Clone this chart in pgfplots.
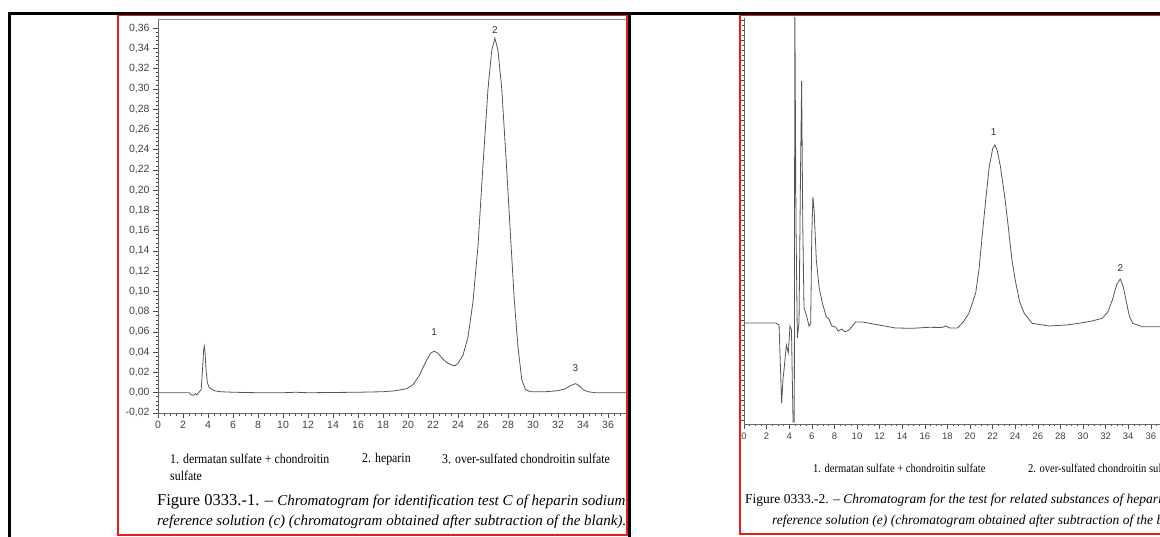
\documentclass[border=0pt]{standalone}
\usepackage{pgfplots}
\pgfplotsset{compat=1.18}
\usepackage{fontspec}
\setmainfont{Liberation Sans}
\newfontfamily\capfont{Liberation Serif}
\newfontfamily\legfont{Liberation Serif}[FakeStretch=0.88]
\definecolor{redframe}{RGB}{232,28,28}
\definecolor{trace}{RGB}{85,85,85}

\pgfplotsset{chrom/.style={
  scale only axis, anchor=south west,
  axis x line*=bottom, axis y line*=left,
  tick align=outside, major tick length=5pt, minor tick length=2.5pt,
  xtick distance=2, minor x tick num=3,
  tick style={black!70, line width=0.6pt},
  axis line style={black!60, line width=0.8pt},
  ticklabel style={font=\fontsize{10.5}{10.5}\selectfont, text=black!75},
  /pgf/number format/assume math mode=true,
  clip mode=individual,
}}

\begin{document}
\begin{tikzpicture}
\useasboundingbox (0,0) rectangle (1160pt,536pt);
\begin{scope}
\clip (0,0) rectangle (1160pt,536pt);

% left chromatogram
\begin{axis}[chrom, at={(158pt,123pt)}, width=470pt, height=393pt,
  xmin=0, xmax=37.6, ymin=-0.02, ymax=0.368,
  ytick distance=0.02, minor y tick num=4,
  yticklabel style={/pgf/number format/.cd, fixed, fixed zerofill, precision=2, use comma}]
\draw[black!45, line width=1pt] (rel axis cs:0,1) -- (rel axis cs:1,1);
\addplot[trace, line width=0.8pt] coordinates {
(0,0) (2.5,0) (2.65,-0.002) (2.85,-0.0025) (3.0,-0.001) (3.1,-0.002) (3.25,0)
(3.45,0.003) (3.55,0.02) (3.65,0.042) (3.7,0.046) (3.75,0.042) (3.85,0.022)
(3.95,0.010) (4.1,0.005) (4.5,0.002) (5.0,0.001) (6,0.0005) (8,0) (10,0)
(11,0.0005) (12,0) (16,0.0005) (18,0.001) (19,0.002)
(19.9,0.004) (20.4,0.008) (20.9,0.017) (21.4,0.030) (21.8,0.039) (22.1,0.041)
(22.4,0.039) (22.8,0.033) (23.2,0.029) (23.6,0.027) (23.8,0.027)
(24.0,0.029) (24.4,0.037) (24.8,0.055) (25.2,0.090) (25.6,0.145) (26.0,0.225)
(26.4,0.300) (26.7,0.338) (26.95,0.350) (27.2,0.338) (27.5,0.300) (27.9,0.220)
(28.2,0.155) (28.5,0.092) (28.8,0.045) (29.1,0.013) (29.4,0.003) (29.8,0.001)
(31,0.001) (32,0.002) (32.6,0.004) (33.0,0.007) (33.4,0.009) (33.7,0.007)
(34.0,0.003) (34.4,0.001) (35,0) (37.6,0)
};
\node[font=\fontsize{10}{10}\selectfont, text=black!80] at (axis cs:22.1,0.060) {1};
\node[font=\fontsize{10}{10}\selectfont, text=black!80] at (axis cs:26.95,0.358) {2};
\node[font=\fontsize{10}{10}\selectfont, text=black!80] at (axis cs:33.4,0.024) {3};
\end{axis}

% right chromatogram
\begin{axis}[chrom, at={(744pt,112pt)}, width=426pt, height=406pt,
  xmin=0, xmax=37.7, ymin=0, ymax=406,
  ytick={4,24,...,404}, minor y tick num=3, yticklabels={},
  ticklabel style={font=\fontsize{9.5}{9.5}\selectfont}]
\addplot[trace, line width=0.8pt] coordinates {
(0,101) (2.8,101) (3.1,99) (3.33,21) (3.45,45) (3.54,54) (3.75,79) (3.92,71)
(4.07,98) (4.2,94) (4.34,2) (4.45,2) (4.5,420) (4.6,200) (4.72,86) (4.87,102)
(5.0,250) (5.1,343) (5.2,200) (5.31,116) (5.52,109) (5.75,98) (5.9,100)
(6.0,190) (6.1,227) (6.2,215) (6.4,164) (6.64,137) (6.93,121) (7.29,107)
(7.52,105) (7.76,98) (8.1,97) (8.35,93) (8.65,95) (8.94,92) (9.3,94)
(9.88,102) (10.47,102) (11.95,99) (13.4,96) (14.9,95.7) (16.4,96.7)
(17.5,96.5) (17.85,98) (18.2,96) (18.9,96) (19.4,102) (19.9,110.7)
(20.5,130.7) (20.8,155) (21.1,190.7) (21.4,225) (21.7,257) (22.0,275)
(22.2,279) (22.4,274) (22.7,257) (23.1,225) (23.45,191) (23.7,165) (24.0,144)
(24.4,122) (24.8,110.7) (25.5,100.7) (27.0,98) (28.5,99) (29.65,100.7)
(30.8,103) (31.7,105.7) (32.2,112) (32.6,124) (33.0,140) (33.3,145)
(33.55,138) (33.8,124) (34.1,108) (34.4,100.7) (35.25,97.3) (37.7,97.3)
};
\node[font=\fontsize{10}{10}\selectfont, text=black!80] at (axis cs:22.1,292) {1};
\node[font=\fontsize{10}{10}\selectfont, text=black!80] at (axis cs:33.3,156) {2};
\end{axis}

% left captions
\begin{scope}
\clip (118pt,0) rectangle (627pt,536pt);
\node[anchor=west, inner sep=0, font=\legfont\fontsize{13.5}{14}\selectfont] at (170pt,77pt) {1. dermatan sulfate + chondroitin};
\node[anchor=west, inner sep=0, font=\legfont\fontsize{13.5}{14}\selectfont] at (170pt,60pt) {sulfate};
\node[anchor=west, inner sep=0, font=\legfont\fontsize{13.5}{14}\selectfont] at (362pt,77pt) {2. heparin};
\node[anchor=west, inner sep=0, font=\legfont\fontsize{13.5}{14}\selectfont] at (442pt,77pt) {3. over-sulfated chondroitin sulfate};
\node[anchor=west, inner sep=0, font=\capfont\fontsize{16.5}{17}\selectfont] at (157pt,34pt) {Figure 0333.-1. \textendash{} \fontsize{15}{16}\selectfont\textit{Chromatogram for identification test C of heparin sodium:}};
\node[anchor=west, inner sep=0, font=\capfont\fontsize{15}{16}\selectfont] at (157pt,14pt) {\textit{reference solution (c) (chromatogram obtained after subtraction of the blank).}};
\end{scope}

% right captions
\node[anchor=west, inner sep=0, font=\legfont\fontsize{12}{12}\selectfont] at (813pt,68pt) {1. dermatan sulfate + chondroitin sulfate};
\node[anchor=west, inner sep=0, font=\legfont\fontsize{12}{12}\selectfont] at (1028pt,68pt) {2. over-sulfated chondroitin sulfate};
\node[anchor=west, inner sep=0, font=\capfont\fontsize{13.5}{14}\selectfont] at (745pt,36pt) {Figure 0333.-2. \textendash{} \textit{Chromatogram for the test for related substances of heparin sodium:}};
\node[anchor=west, inner sep=0, font=\capfont\fontsize{13.5}{14}\selectfont] at (772pt,15pt) {\textit{reference solution (e) (chromatogram obtained after subtraction of the blank).}};

% frames
\draw[redframe, line width=2pt] (118pt,1pt) rectangle (627pt,521pt);
\draw[redframe, line width=2pt] (739.5pt,2pt) rectangle (1175pt,521pt);
\draw[black, line width=3pt] (8pt,522.5pt) -- (1165pt,522.5pt);
\draw[black, line width=3pt] (9.5pt,524pt) -- (9.5pt,-5pt);
\draw[black, line width=2.5pt] (629.3pt,524pt) -- (629.3pt,-5pt);
\end{scope}
\end{tikzpicture}
\end{document}
